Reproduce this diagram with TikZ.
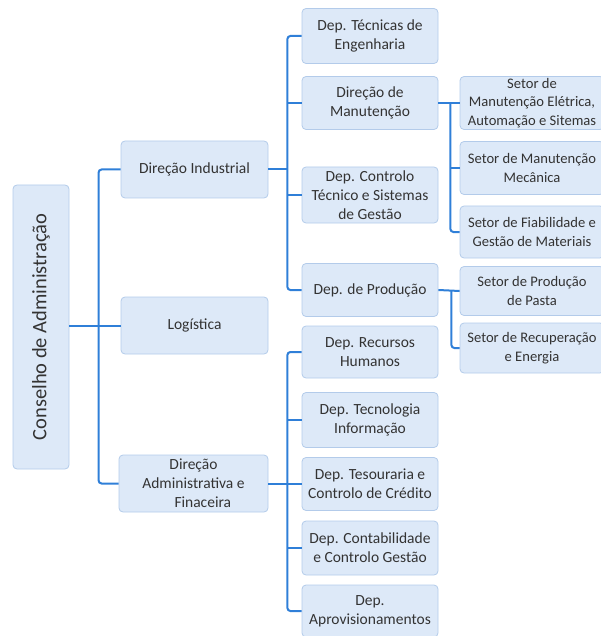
\documentclass[tikz,border=0pt]{standalone}
\usepackage{fontspec}
\setmainfont{Carlito}
\definecolor{boxfill}{HTML}{DDE9F8}
\definecolor{boxline}{HTML}{B3CBEA}
\definecolor{linkblue}{HTML}{2F7FD8}
\definecolor{txt}{HTML}{333333}
\tikzset{
  orgbox/.style={draw=boxline, fill=boxfill, rounded corners=4pt, line width=0.8pt,
    align=center, text=txt, font=\fontsize{15.5}{19}\selectfont, inner sep=1pt},
  setorbox/.style={orgbox, font=\fontsize{14.6}{18.5}\selectfont},
  conn/.style={draw=linkblue, line width=2pt, rounded corners=3pt}
}
\begin{document}
\begin{tikzpicture}[x=1pt,y=-1pt]
\path[use as bounding box, clip] (0,0) rectangle (601,636);
% root
\node[orgbox, minimum width=284, minimum height=56, rotate=90, font=\fontsize{20.5}{24}\selectfont] (cons) at (41,327) {Conselho de Administração};
% level 1
\node[orgbox, minimum width=147, minimum height=57] (di) at (194.5,169.5) {Direção Industrial};
\node[orgbox, minimum width=147, minimum height=57] (lo) at (194.5,325.5) {Logística};
\node[orgbox, minimum width=149, minimum height=57] (da) at (193.5,483.5) {Direção\\Administrativa e\\\hspace*{1.2em}Finaceira};
% level 2
\node[orgbox, minimum width=136, minimum height=55] (dt) at (370,36) {Dep. Técnicas de\\Engenharia};
\node[orgbox, minimum width=136, minimum height=53] (dm) at (370,103) {Direção de\\Manutenção};
\node[orgbox, minimum width=136, minimum height=56] (dc) at (370,195) {Dep. Controlo\\Técnico e Sistemas\\de Gestão};
\node[orgbox, minimum width=136, minimum height=53] (dp) at (370,290) {Dep. de Produção};
\node[orgbox, minimum width=136, minimum height=52] (rh) at (370,352) {Dep. Recursos\\Humanos};
\node[orgbox, minimum width=136, minimum height=55] (ti) at (370,420) {Dep. Tecnologia\\Informação};
\node[orgbox, minimum width=136, minimum height=53] (te) at (370,484) {Dep. Tesouraria e\\Controlo de Crédito};
\node[orgbox, minimum width=136, minimum height=54] (co) at (370,548) {Dep. Contabilidade\\e Controlo Gestão};
\node[orgbox, minimum width=136, minimum height=52] (ap) at (370,611) {Dep.\\Aprovisionamentos};
% level 3
\node[setorbox, minimum width=144, minimum height=53] (s1) at (532,103) {Setor de\\Manutenção Elétrica,\\Automação e Sitemas};
\node[setorbox, minimum width=144, minimum height=53] (s2) at (532,168) {Setor de Manutenção\\Mecânica};
\node[setorbox, minimum width=144, minimum height=52] (s3) at (532,232) {Setor de Fiabilidade e\\Gestão de Materiais};
\node[setorbox, minimum width=144, minimum height=49] (s4) at (532,291) {Setor de Produção\\de Pasta};
\node[setorbox, minimum width=144, minimum height=50] (s5) at (532,348) {Setor de Recuperação\\e Energia};
% connectors: root
\coordinate (j0) at ([xshift=-22]lo.west);
\draw[conn] (lo.west) -- (lo.west -| cons.south);
\draw[conn] (di.west) -| (j0) |- (da.west);
% industrial
\coordinate (j1) at ([xshift=19]di.east);
\draw[conn] (di.east) -- (j1);
\draw[conn] (dt.west) -| (j1) |- (dp.west);
\draw[conn] (dm.west) -- (dm.west -| j1);
\draw[conn] (dc.west) -- (dc.west -| j1);
% admin
\coordinate (j2) at ([xshift=19]da.east);
\draw[conn] (da.east) -- (j2);
\draw[conn] (rh.west) -| (j2) |- (ap.west);
\draw[conn] (ti.west) -- (ti.west -| j2);
\draw[conn] (te.west) -- (te.west -| j2);
\draw[conn] (co.west) -- (co.west -| j2);
% manutencao
\coordinate (j3) at ([xshift=12]dm.east);
\draw[conn] (dm.east) -- (s1.west);
\draw[conn] (j3) |- (s3.west);
\draw[conn] (s2.west) -- (s2.west -| j3);
% producao
\coordinate (j4) at ([xshift=13]dp.east);
\draw[conn] (dp.east) -- (s4.west);
\draw[conn] (j4) |- (s5.west);
\end{tikzpicture}
\end{document}
